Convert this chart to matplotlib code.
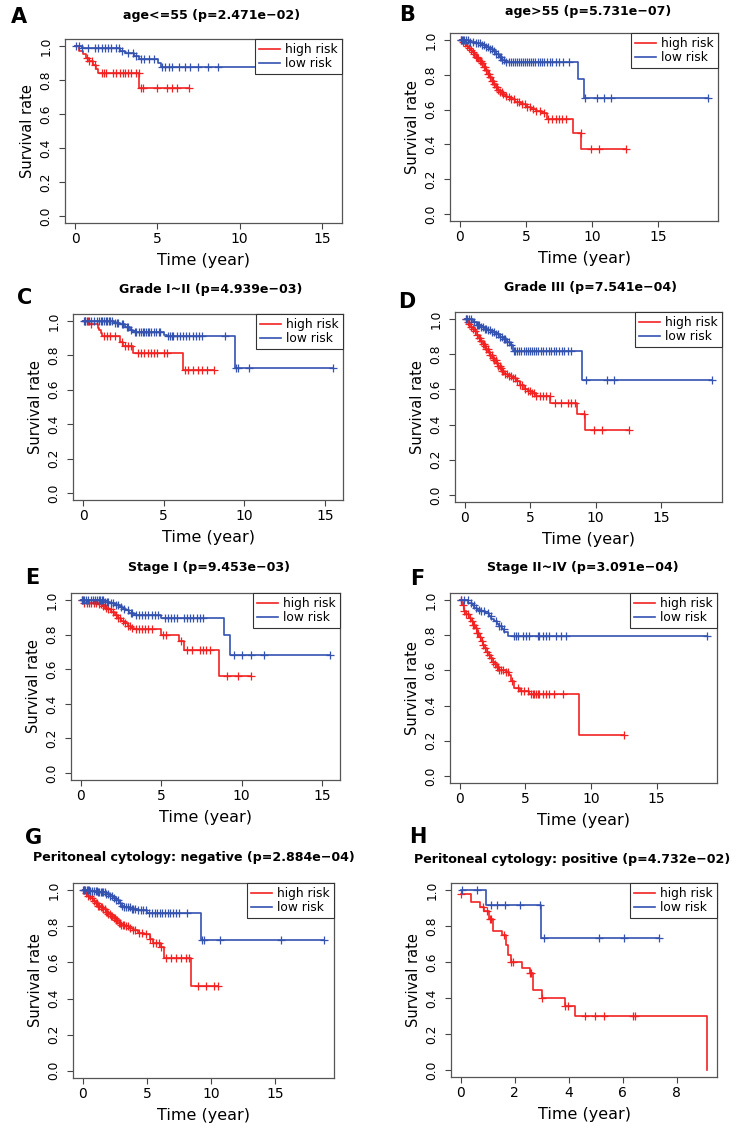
import numpy as np
import matplotlib.pyplot as plt

W, H = 755, 1130
RED = '#f22222'
BLUE = '#3452b0'

# ---- A: age<=55 ----
a_title = 'age<=55 (p=2.471e\u221202)'
a_hi_t = [0, 0.2, 0.45, 0.65, 0.85, 1.05, 1.25, 1.4, 3.9, 6.9]
a_hi_s = [1.0, 0.97, 0.95, 0.93, 0.91, 0.89, 0.865, 0.84, 0.75, 0.75]
a_hi_c = [0.7, 0.85, 1.0, 1.2, 1.6, 1.75, 1.9, 2.3, 2.5, 2.7, 2.9, 3.0, 3.2, 3.4, 3.7,
          3.85, 4.0, 4.1, 4.95, 5.6, 5.9, 6.2, 6.9]
a_lo_t = [0, 0.4, 2.75, 3.0, 3.6, 3.85, 5.05, 5.2, 15.6]
a_lo_s = [1.0, 0.985, 0.97, 0.955, 0.94, 0.925, 0.90, 0.876, 0.876]
a_lo_c = [0.05, 0.2, 0.4, 0.8, 1.2, 1.4, 1.6, 1.8, 2.0, 2.2, 2.5, 2.66, 2.82, 3.2, 3.5,
          3.7, 4.0, 4.2, 4.5, 4.8, 5.3, 5.45, 5.7, 5.9, 6.3, 6.7, 7.0, 7.45, 8.05, 8.66, 15.6]

# ---- B: age>55 ----
b_title = 'age>55 (p=5.731e\u221207)'
b_hi_t = [0, 0.15, 0.3, 0.45, 0.6, 0.75, 0.9, 1.05, 1.2, 1.35, 1.5, 1.65, 1.8, 1.95, 2.1,
          2.25, 2.4, 2.55, 2.7, 2.85, 3.0, 3.2, 3.4, 3.6, 3.9, 4.2, 4.6, 5.0, 5.4, 5.8,
          6.2, 6.6, 8.55, 9.2, 12.6]
b_hi_s = [1.0, 0.99, 0.98, 0.965, 0.955, 0.945, 0.93, 0.92, 0.905, 0.895, 0.88, 0.865,
          0.845, 0.825, 0.805, 0.785, 0.765, 0.745, 0.73, 0.715, 0.70, 0.69, 0.68, 0.67,
          0.66, 0.645, 0.63, 0.615, 0.605, 0.59, 0.58, 0.545, 0.468, 0.376, 0.376]
b_hi_c = [0.1, 0.25, 0.4, 0.55, 0.7, 0.85, 1.0, 1.1, 1.2, 1.3, 1.4, 1.5, 1.6, 1.7, 1.8,
          1.9, 2.0, 2.1, 2.2, 2.3, 2.4, 2.5, 2.6, 2.7, 2.8, 2.9, 3.0, 3.15, 3.3, 3.5, 3.7,
          3.9, 4.1, 4.3, 4.5, 4.7, 4.9, 5.1, 5.3, 5.5, 5.8, 6.1, 6.4, 6.7, 7.0, 7.25, 7.5,
          7.75, 8.0, 9.15, 9.9, 10.5, 12.6]
b_lo_t = [0, 0.7, 1.2, 1.6, 2.0, 2.2, 2.5, 2.7, 2.95, 3.2, 3.45, 8.95, 9.4, 18.8]
b_lo_s = [1.0, 0.99, 0.98, 0.97, 0.96, 0.95, 0.935, 0.92, 0.90, 0.885, 0.875, 0.775,
          0.664, 0.664]
b_lo_c = [0.05, 0.12, 0.2, 0.3, 0.45, 0.6, 0.8, 1.0, 1.2, 1.4, 1.55, 1.7, 1.85, 2.0,
          2.1, 2.25, 2.4, 2.55, 2.7, 2.85, 3.0, 3.1, 3.2, 3.35, 3.5, 3.7, 3.85, 4.0, 4.15,
          4.3, 4.45, 4.6, 4.75, 4.9, 5.05, 5.2, 5.35, 5.5, 5.7, 5.9, 6.05, 6.2, 6.4, 6.6,
          6.8, 7.0, 7.25, 7.5, 7.8, 8.3, 9.5, 10.4, 10.9, 11.45, 18.8]

# ---- C: Grade I~II ----
c_title = 'Grade I~II (p=4.939e\u221203)'
c_hi_t = [0, 0.4, 0.9, 1.0, 1.1, 1.2, 2.3, 2.5, 3.1, 6.2, 8.1]
c_hi_s = [1.0, 0.98, 0.96, 0.945, 0.93, 0.91, 0.88, 0.855, 0.815, 0.715, 0.715]
c_hi_c = [0.1, 0.3, 0.5, 1.3, 1.5, 1.7, 2.0, 2.4, 2.6, 2.8, 3.0, 3.4, 3.6, 3.8, 4.0,
          4.2, 4.4, 4.6, 5.0, 5.2, 6.3, 6.5, 6.8, 7.1, 7.4, 7.7, 8.1]
c_lo_t = [0, 1.95, 2.3, 2.6, 2.9, 3.1, 5.0, 5.2, 9.4, 15.5]
c_lo_s = [1.0, 0.99, 0.98, 0.965, 0.95, 0.935, 0.92, 0.91, 0.725, 0.725]
c_lo_c = [0.05, 0.15, 0.25, 0.35, 0.5, 0.7, 0.85, 1.0, 1.1, 1.2, 1.3, 1.4, 1.5, 1.6,
          1.7, 1.8, 2.0, 2.1, 2.2, 2.4, 2.5, 2.7, 2.8, 3.0, 3.2, 3.3, 3.5, 3.6, 3.7, 3.8,
          3.9, 4.0, 4.1, 4.2, 4.4, 4.5, 4.7, 4.8, 5.3, 5.4, 5.5, 5.6, 5.8, 6.0, 6.2, 6.4,
          6.6, 6.8, 7.0, 7.2, 7.4, 8.8, 9.5, 9.6, 10.3, 15.5]

# ---- D: Grade III ----
d_title = 'Grade III (p=7.541e\u221204)'
d_hi_t = [0, 0.15, 0.3, 0.45, 0.6, 0.75, 0.9, 1.05, 1.2, 1.35, 1.5, 1.65, 1.8, 1.95,
          2.1, 2.25, 2.4, 2.55, 2.7, 2.85, 3.0, 3.3, 3.6, 3.9, 4.2, 4.5, 4.8, 5.1, 5.4,
          6.5, 8.6, 9.2, 12.55]
d_hi_s = [1.0, 0.985, 0.97, 0.955, 0.945, 0.93, 0.91, 0.89, 0.875, 0.86, 0.845, 0.83,
          0.815, 0.795, 0.78, 0.765, 0.75, 0.735, 0.72, 0.705, 0.69, 0.675, 0.665, 0.65,
          0.625, 0.605, 0.59, 0.58, 0.565, 0.525, 0.458, 0.368, 0.368]
d_hi_c = [0.1, 0.2, 0.35, 0.5, 0.65, 0.8, 0.95, 1.05, 1.15, 1.25, 1.35, 1.45, 1.55,
          1.65, 1.75, 1.85, 1.95, 2.05, 2.15, 2.25, 2.35, 2.45, 2.55, 2.65, 2.75, 2.85,
          2.95, 3.1, 3.25, 3.4, 3.55, 3.7, 3.85, 4.0, 4.2, 4.4, 4.6, 4.8, 5.0, 5.1, 5.3,
          5.47, 5.72, 5.98, 6.23, 6.48, 6.86, 7.37, 7.87, 8.1, 8.38, 9.14, 9.9, 10.5, 12.55]
d_lo_t = [0, 0.6, 0.9, 1.2, 1.5, 1.8, 2.1, 2.4, 2.7, 3.0, 3.2, 3.45, 3.7, 8.95, 18.9]
d_lo_s = [1.0, 0.985, 0.965, 0.955, 0.945, 0.935, 0.925, 0.915, 0.90, 0.885, 0.87,
          0.85, 0.82, 0.655, 0.655]
d_lo_c = [0.05, 0.15, 0.3, 0.5, 0.7, 0.9, 1.0, 1.1, 1.25, 1.4, 1.5, 1.65, 1.8, 1.95,
          2.1, 2.25, 2.4, 2.55, 2.7, 2.85, 3.0, 3.1, 3.25, 3.4, 3.55, 3.75, 3.85, 4.0,
          4.15, 4.3, 4.5, 4.65, 4.8, 4.95, 5.1, 5.3, 5.45, 5.6, 5.8, 6.0, 6.2, 6.4, 6.6,
          6.8, 7.0, 7.2, 7.4, 7.6, 7.9, 8.15, 9.25, 10.85, 11.4, 18.9]

# ---- E: Stage I ----
e_title = 'Stage I (p=9.453e\u221203)'
e_hi_t = [0, 0.2, 1.1, 1.3, 1.5, 1.7, 1.9, 2.1, 2.3, 2.5, 2.7, 2.9, 3.1, 3.3, 5.0, 6.1,
          6.4, 8.6, 10.6]
e_hi_s = [1.0, 0.985, 0.975, 0.965, 0.955, 0.945, 0.93, 0.915, 0.895, 0.88, 0.865,
          0.85, 0.84, 0.83, 0.798, 0.76, 0.71, 0.563, 0.563]
e_hi_c = [0.05, 0.2, 0.35, 0.5, 0.65, 0.8, 0.95, 1.1, 1.25, 1.4, 1.55, 1.7, 1.85, 2.0,
          2.15, 2.3, 2.45, 2.6, 2.75, 2.9, 3.05, 3.2, 3.4, 3.6, 3.8, 4.0, 4.2, 4.4, 5.1,
          5.3, 6.2, 6.6, 6.9, 7.4, 7.6, 7.8, 8.0, 9.1, 9.8, 10.6]
e_lo_t = [0, 1.5, 1.8, 2.1, 2.4, 2.6, 2.8, 3.0, 3.3, 5.0, 8.9, 9.3, 15.5]
e_lo_s = [1.0, 0.99, 0.98, 0.97, 0.96, 0.95, 0.94, 0.925, 0.915, 0.895, 0.798, 0.683,
          0.683]
e_lo_c = [0.05, 0.1, 0.2, 0.3, 0.45, 0.6, 0.75, 0.9, 1.0, 1.1, 1.2, 1.3, 1.4, 1.5, 1.6,
          1.7, 1.9, 2.0, 2.2, 2.3, 2.5, 2.7, 2.9, 3.1, 3.2, 3.4, 3.6, 3.8, 4.0, 4.2, 4.4,
          4.6, 4.8, 5.2, 5.4, 5.6, 5.8, 6.0, 6.4, 6.6, 6.8, 7.0, 7.2, 7.4, 7.6, 9.5, 10.0,
          10.6, 11.4, 15.5]

# ---- F: Stage II~IV ----
f_title = 'Stage II~IV (p=3.091e\u221204)'
f_hi_t = [0, 0.15, 0.3, 0.5, 0.7, 0.85, 1.0, 1.15, 1.3, 1.45, 1.6, 1.75, 1.9, 2.05, 2.2,
          2.35, 2.5, 2.65, 2.8, 3.0, 3.5, 3.75, 3.9, 4.15, 4.6, 5.3, 9.1, 12.5]
f_hi_s = [1.0, 0.97, 0.94, 0.92, 0.90, 0.88, 0.86, 0.84, 0.815, 0.79, 0.77, 0.745,
          0.725, 0.705, 0.685, 0.67, 0.65, 0.635, 0.62, 0.60, 0.59, 0.575, 0.54, 0.50,
          0.485, 0.464, 0.233, 0.233]
f_hi_c = [0.05, 0.2, 0.35, 0.5, 0.65, 0.8, 0.9, 1.0, 1.1, 1.2, 1.3, 1.4, 1.5, 1.65, 1.8,
          1.95, 2.1, 2.25, 2.4, 2.55, 2.7, 2.8, 2.9, 3.0, 3.1, 3.3, 3.5, 3.7, 4.0, 4.4,
          4.66, 4.91, 5.17, 5.42, 5.55, 5.67, 5.8, 5.93, 6.06, 6.31, 6.56, 6.82, 7.2,
          7.84, 12.5]
f_lo_t = [0, 0.6, 0.9, 1.1, 1.3, 1.6, 1.9, 2.2, 2.4, 2.6, 2.8, 3.0, 3.2, 3.4, 3.65, 18.85]
f_lo_s = [1.0, 0.985, 0.97, 0.955, 0.945, 0.935, 0.925, 0.91, 0.895, 0.88, 0.865, 0.85,
          0.835, 0.82, 0.797, 0.797]
f_lo_c = [0.08, 0.33, 0.59, 0.84, 1.09, 1.22, 1.48, 1.6, 1.86, 2.11, 2.37, 2.75, 3.0,
          3.13, 3.38, 4.15, 4.27, 4.4, 4.78, 5.04, 5.29, 5.93, 6.06, 6.31, 6.56, 6.82,
          7.33, 7.71, 8.09, 18.85]

# ---- G: Peritoneal cytology negative ----
g_title = 'Peritoneal cytology: negative (p=2.884e\u221204)'
g_hi_t = [0, 0.2, 0.4, 0.6, 0.8, 1.0, 1.2, 1.4, 1.6, 1.8, 2.0, 2.2, 2.4, 2.6, 2.8, 3.0,
          3.3, 3.6, 3.9, 4.3, 4.8, 5.2, 5.5, 6.1, 6.35, 8.4, 10.5]
g_hi_s = [1.0, 0.985, 0.97, 0.955, 0.94, 0.93, 0.915, 0.905, 0.895, 0.88, 0.87, 0.86,
          0.845, 0.835, 0.82, 0.81, 0.80, 0.79, 0.78, 0.765, 0.755, 0.73, 0.71, 0.685,
          0.625, 0.47, 0.47]
g_hi_c = [0.1, 0.25, 0.4, 0.55, 0.7, 0.85, 1.0, 1.1, 1.2, 1.3, 1.4, 1.5, 1.6, 1.7, 1.8,
          1.9, 2.0, 2.1, 2.2, 2.3, 2.4, 2.5, 2.6, 2.7, 2.8, 2.9, 3.0, 3.1, 3.2, 3.35, 3.5,
          3.7, 3.9, 4.1, 4.35, 4.6, 4.9, 5.2, 5.5, 5.7, 5.9, 6.1, 6.46, 6.84, 7.23, 7.62,
          8.01, 8.27, 9.0, 9.56, 10.2, 10.5]
g_lo_t = [0, 0.6, 1.2, 1.8, 2.1, 2.4, 2.6, 2.8, 3.0, 3.2, 3.7, 4.3, 5.0, 9.2, 18.8]
g_lo_s = [1.0, 0.995, 0.99, 0.98, 0.97, 0.955, 0.945, 0.93, 0.915, 0.905, 0.895, 0.888,
          0.875, 0.725, 0.725]
g_lo_c = [0.05, 0.1, 0.2, 0.3, 0.4, 0.5, 0.6, 0.75, 0.9, 1.0, 1.1, 1.2, 1.3, 1.4, 1.5,
          1.6, 1.7, 1.85, 2.0, 2.15, 2.3, 2.45, 2.6, 2.75, 2.9, 3.05, 3.2, 3.35, 3.5,
          3.65, 3.8, 3.95, 4.1, 4.3, 4.5, 4.7, 4.9, 5.17, 5.4, 5.6, 5.8, 6.0, 6.2, 6.4,
          6.6, 6.8, 7.0, 7.23, 7.5, 8.14, 9.3, 9.45, 10.7, 15.4, 18.8]

# ---- H: Peritoneal cytology positive ----
h_title = 'Peritoneal cytology: positive (p=4.732e\u221202)'
h_hi_t = [0, 0.39, 0.7, 0.86, 1.04, 1.2, 1.53, 1.66, 1.75, 1.87, 2.27, 2.55, 2.68, 3.0,
          3.87, 4.24, 9.12]
h_hi_s = [0.977, 0.932, 0.909, 0.886, 0.84, 0.775, 0.753, 0.695, 0.64, 0.60, 0.567,
          0.54, 0.447, 0.40, 0.353, 0.30, 0.0]
h_hi_c = [0.02, 0.83, 0.95, 1.07, 1.13, 1.6, 1.87, 1.94, 2.55, 2.61, 3.0, 3.87, 3.95,
          4.59, 4.98, 5.3, 6.37, 6.44]
h_lo_t = [0, 0.92, 2.98, 7.35]
h_lo_s = [1.0, 0.915, 0.733, 0.733]
h_lo_c = [0.05, 0.59, 1.13, 1.33, 1.63, 2.18, 2.92, 3.08, 5.1, 6.03, 7.35]

ticks_15 = [0, 5, 10, 15]
ticks_8 = [0, 2, 4, 6, 8]
y_ticks = [0.0, 0.2, 0.4, 0.6, 0.8, 1.0]

# panel boxes in pixels: left, top, right, bottom
panels = [
    ('A', a_title, (65, 39, 342, 223), (19, 17), (212, 15), ticks_15,
     a_hi_t, a_hi_s, a_hi_c, a_lo_t, a_lo_s, a_lo_c),
    ('B', b_title, (450, 33, 718, 221), (407, 15), (588, 12), ticks_15,
     b_hi_t, b_hi_s, b_hi_c, b_lo_t, b_lo_s, b_lo_c),
    ('C', c_title, (73, 314, 343, 500), (25, 298), (211, 290), ticks_15,
     c_hi_t, c_hi_s, c_hi_c, c_lo_t, c_lo_s, c_lo_c),
    ('D', d_title, (455, 312, 722, 502), (407, 302), (590, 287), ticks_15,
     d_hi_t, d_hi_s, d_hi_c, d_lo_t, d_lo_s, d_lo_c),
    ('E', e_title, (71, 593, 340, 780), (32, 578), (209, 568), ticks_15,
     e_hi_t, e_hi_s, e_hi_c, e_lo_t, e_lo_s, e_lo_c),
    ('F', f_title, (450, 593, 717, 783), (417, 579), (583, 568), ticks_15,
     f_hi_t, f_hi_s, f_hi_c, f_lo_t, f_lo_s, f_lo_c),
    ('G', g_title, (73, 883, 334, 1078), (34, 838), (194, 858), ticks_15,
     g_hi_t, g_hi_s, g_hi_c, g_lo_t, g_lo_s, g_lo_c),
    ('H', h_title, (451, 883, 717, 1077), (418, 837), (572, 860), ticks_8,
     h_hi_t, h_hi_s, h_hi_c, h_lo_t, h_lo_s, h_lo_c),
]


def censor_y(t, s, c):
    idx = np.searchsorted(np.asarray(t), np.asarray(c), side='right') - 1
    return np.asarray(s)[idx]


def km_curve(ax, t, s, c, color, label):
    ax.step(t, s, where='post', color=color, lw=1.2, label=label)
    ax.plot(c, censor_y(t, s, c), ls='none', marker='+', ms=6, mew=0.9, color=color)


fig = plt.figure(figsize=(W / 100, H / 100), dpi=100)

for (letter, title, box, lpos, tpos, xt,
     hi_t, hi_s, hi_c, lo_t, lo_s, lo_c) in panels:
    l, t, r, b = box
    ax = fig.add_axes([l / W, 1 - b / H, (r - l) / W, (b - t) / H])
    km_curve(ax, hi_t, hi_s, hi_c, RED, 'high risk')
    km_curve(ax, lo_t, lo_s, lo_c, BLUE, 'low risk')

    # R style axis range: data range plus 4% on each side
    tmax = max(max(hi_t), max(lo_t))
    ax.set_xlim(-0.04 * tmax, 1.04 * tmax)
    ax.set_ylim(-0.04, 1.04)
    ax.set_xticks(xt)
    ax.set_xticklabels([str(v) for v in xt], fontsize=10)
    ax.set_yticks(y_ticks)
    ax.set_yticklabels(['%.1f' % v for v in y_ticks], fontsize=8.8, rotation=90, va='center')
    ax.tick_params(direction='out', length=4, width=0.8, color='#444444')
    ax.tick_params(axis='x', pad=2.5)
    ax.tick_params(axis='y', pad=5)
    for sp in ax.spines.values():
        sp.set_color('#555555')
        sp.set_linewidth(0.9)
    ax.set_xlabel('Time (year)', fontsize=11.5, labelpad=5)
    ax.set_ylabel('Survival rate', fontsize=10.5, labelpad=3)

    leg = ax.legend(loc='upper right', borderaxespad=0, fancybox=False, framealpha=1,
                    edgecolor='#333333', fontsize=8.8, handlelength=1.7,
                    handletextpad=0.4, labelspacing=0.05, borderpad=0.35)
    leg.get_frame().set_linewidth(0.8)

    fig.text(tpos[0] / W, 1 - tpos[1] / H, title, ha='center', va='center',
             fontsize=9.1, fontweight='bold')
    fig.text(lpos[0] / W, 1 - lpos[1] / H, letter, ha='center', va='center',
             fontsize=15, fontweight='bold')

fig.savefig('out.png', dpi=100)
